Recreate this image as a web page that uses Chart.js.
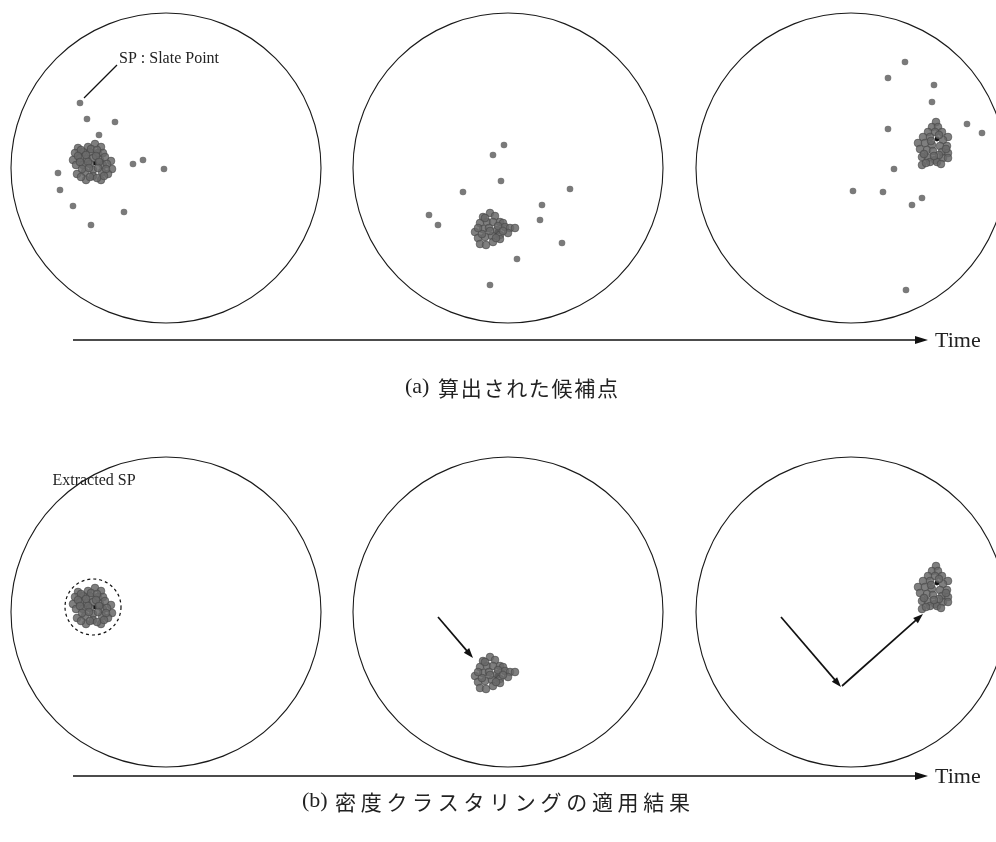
<!DOCTYPE html>
<html>
<head>
<meta charset="utf-8">
<script src="https://cdn.jsdelivr.net/npm/chart.js@4.4.1/dist/chart.umd.min.js"></script>
<style>
  html, body { margin: 0; padding: 0; background: #fff; overflow: hidden; }
  #wrap { position: relative; width: 996px; height: 842px; }
</style>
</head>
<body>
<div id="wrap"><canvas id="c" width="996" height="842"></canvas></div>
<script>
// Candidate points for three time steps, each relative to its circle's centre (x right, y up).
const outliersT1 = [[-86,65],[-79,49],[-51,46],[-67,33],[-33,4],[-23,8],[-2,-1],[-108,-5],[-106,-22],[-93,-38],[-42,-44],[-75,-57]];
const clusterT1 = [[-88,20],[-78,21],[-71,24],[-65,21],[-91,15],[-83,16],[-76,16],[-68,15],[-63,15],[-93,8],[-86,10],[-79,9],[-73,10],[-66,8],[-55,7],[-90,3],[-83,3],[-76,4],[-63,3],[-54,-1],[-89,-6],[-81,-4],[-73,-2],[-64,-4],[-58,-6],[-80,-12],[-73,-8],[-65,-12],[-85,18],[-75,19],[-69,18],[-88,12],[-80,13],[-70,12],[-61,11],[-86,6],[-78,6],[-67,6],[-59,4],[-84,-1],[-77,0],[-68,0],[-60,-1],[-76,-9],[-69,-10],[-85,-9],[-62,-8]];
const coreT1 = [[-71,5]];

const outliersT2 = [[-4,23],[-15,13],[-7,-13],[-45,-24],[62,-21],[34,-37],[32,-52],[-79,-47],[-70,-57],[54,-75],[9,-91],[-18,-117]];
const clusterT2 = [[-25,-49],[-18,-45],[-13,-48],[-28,-55],[-21,-54],[-15,-54],[-8,-54],[-5,-55],[-33,-64],[-25,-61],[-19,-60],[-11,-62],[-3,-59],[2,-60],[7,-60],[-30,-70],[-23,-69],[-16,-68],[-8,-67],[0,-65],[-28,-76],[-22,-77],[-15,-74],[-8,-71],[-23,-50],[-10,-58],[-5,-63],[-26,-66],[-12,-70],[-18,-63],[-30,-60]];
const coreT2 = [[-11,-64]];

const outliersT3 = [[54,106],[37,90],[83,83],[81,66],[37,39],[116,44],[131,35],[43,-1],[2,-23],[32,-24],[61,-37],[71,-30],[55,-122]];
const clusterT3 = [[85,46],[81,41],[87,41],[77,36],[84,36],[91,36],[97,31],[72,31],[79,31],[92,28],[67,25],[74,25],[81,23],[89,22],[96,22],[69,19],[76,18],[82,17],[91,16],[97,15],[71,11],[77,10],[84,8],[92,10],[97,10],[71,3],[79,6],[86,6],[88,33],[80,27],[73,14],[88,13],[95,19],[83,12],[75,5],[90,4]];
const coreT3 = [[86,29]];

// Movement of the extracted slate point between time steps (start, end), same local frame.
const moveT2 = [[[-70,-5],[-35,-46]]];
const moveT3 = [[[-70,-5],[-10,-75]], [[-9,-74],[72,-2]]];

// Text labels
const captionA = ['(a)', '算出された候補点'];
const captionB = ['(b)', '密度クラスタリングの適用結果'];
const timeLabel = 'Time';
const spLabel = 'SP : Slate Point';
const extractedLabel = 'Extracted SP';

// Layout of the six circles (page units, y down)
const PANEL_X = [166, 508, 851];
const ROW_Y = [168, 612];
const CIRCLE_R = 155;

function place(points, col, row) {
  return points.map(([lx, ly]) => ({ x: PANEL_X[col] + lx, y: ROW_Y[row] - ly }));
}

const outlierStyle = { backgroundColor: '#7a7a7a', borderWidth: 0, pointRadius: 3.3 };
const clusterStyle = { backgroundColor: 'rgba(105,105,105,0.85)', borderColor: 'rgba(60,60,60,0.7)', borderWidth: 0.7, pointRadius: 3.9 };
const coreStyle = { backgroundColor: '#111', borderWidth: 0, pointRadius: 2.4 };

const steps = [
  { outliers: outliersT1, cluster: clusterT1, core: coreT1 },
  { outliers: outliersT2, cluster: clusterT2, core: coreT2 },
  { outliers: outliersT3, cluster: clusterT3, core: coreT3 },
];

const datasets = [];
steps.forEach((s, col) => {
  // (a) all candidate points
  datasets.push({ label: 'candidates ' + (col + 1), data: place(s.outliers, col, 0), ...outlierStyle });
  datasets.push({ label: 'cluster ' + (col + 1), data: place(s.cluster, col, 0), ...clusterStyle });
  datasets.push({ label: 'core ' + (col + 1), data: place(s.core, col, 0), ...coreStyle });
  // (b) after density clustering only the dense cluster remains
  datasets.push({ label: 'extracted ' + (col + 1), data: place(s.cluster, col, 1), ...clusterStyle });
  datasets.push({ label: 'extracted core ' + (col + 1), data: place(s.core, col, 1), ...coreStyle });
});

function arrowHead(ctx, x0, y0, x1, y1, len, half) {
  const a = Math.atan2(y1 - y0, x1 - x0);
  ctx.beginPath();
  ctx.moveTo(x1, y1);
  ctx.lineTo(x1 - len * Math.cos(a) + half * Math.sin(a), y1 - len * Math.sin(a) - half * Math.cos(a));
  ctx.lineTo(x1 - len * Math.cos(a) - half * Math.sin(a), y1 - len * Math.sin(a) + half * Math.cos(a));
  ctx.closePath();
  ctx.fill();
}

function drawArrow(ctx, x0, y0, x1, y1, width, len, half) {
  const a = Math.atan2(y1 - y0, x1 - x0);
  ctx.lineWidth = width;
  ctx.beginPath();
  ctx.moveTo(x0, y0);
  ctx.lineTo(x1 - (len - 1) * Math.cos(a), y1 - (len - 1) * Math.sin(a));
  ctx.stroke();
  arrowHead(ctx, x0, y0, x1, y1, len, half);
}

// Caption: serif label, then Japanese text spread over a given width
function drawCaption(ctx, parts, left, jpLeft, jpRight, cy) {
  ctx.textBaseline = 'middle';
  ctx.textAlign = 'left';
  ctx.fillStyle = '#222';
  ctx.font = '22px "Liberation Serif", "Times New Roman", serif';
  ctx.fillText(parts[0], left, cy);
  ctx.font = '21px "Noto Sans CJK JP", sans-serif';
  const n = [...parts[1]].length;
  const hasLS = 'letterSpacing' in ctx;
  if (hasLS) {
    ctx.letterSpacing = '0px';
    const w0 = ctx.measureText(parts[1]).width;
    const gap = Math.max(0, (jpRight - jpLeft - w0) / (n - 1));
    ctx.letterSpacing = gap.toFixed(2) + 'px';
  }
  ctx.fillText(parts[1], jpLeft, cy + 1);
  if (hasLS) ctx.letterSpacing = '0px';
}

const overlay = {
  id: 'overlay',
  beforeDatasetsDraw(chart) {
    const { ctx, scales: { x, y } } = chart;
    ctx.save();
    ctx.strokeStyle = '#1a1a1a';
    ctx.lineWidth = 1.1;
    ROW_Y.forEach(cy => PANEL_X.forEach(cx => {
      const px = x.getPixelForValue(cx), py = y.getPixelForValue(cy);
      const r = x.getPixelForValue(cx + CIRCLE_R) - px;
      ctx.beginPath();
      ctx.arc(px, py, r, 0, Math.PI * 2);
      ctx.stroke();
    }));
    ctx.restore();
  },
  afterDatasetsDraw(chart) {
    const { ctx, scales: { x, y } } = chart;
    const X = (col, lx) => x.getPixelForValue(PANEL_X[col] + lx);
    const Y = (row, ly) => y.getPixelForValue(ROW_Y[row] - ly);
    ctx.save();
    ctx.strokeStyle = '#111';
    ctx.fillStyle = '#111';

    // time axes
    [340, 776].forEach(ty => {
      drawArrow(ctx, x.getPixelForValue(73), y.getPixelForValue(ty), x.getPixelForValue(928), y.getPixelForValue(ty), 1.3, 13, 4);
      ctx.fillStyle = '#222';
      ctx.font = '22px "Liberation Serif", "Times New Roman", serif';
      ctx.textBaseline = 'middle';
      ctx.textAlign = 'left';
      ctx.fillText(timeLabel, x.getPixelForValue(935), y.getPixelForValue(ty) + 1);
      ctx.fillStyle = '#111';
    });

    // SP leader line and label
    ctx.lineWidth = 1.3;
    ctx.beginPath();
    ctx.moveTo(X(0, -49), Y(0, 103));
    ctx.lineTo(X(0, -82), Y(0, 70));
    ctx.stroke();
    ctx.fillStyle = '#222';
    ctx.font = '16px "Liberation Serif", "Times New Roman", serif';
    ctx.textBaseline = 'alphabetic';
    ctx.textAlign = 'left';
    ctx.fillText(spLabel, X(0, -47), Y(0, 105));

    // extracted SP: dashed ring and label
    ctx.setLineDash([3, 3]);
    ctx.lineWidth = 1.2;
    ctx.strokeStyle = '#111';
    ctx.beginPath();
    ctx.arc(X(0, -73), Y(1, 5), x.getPixelForValue(28) - x.getPixelForValue(0), 0, Math.PI * 2);
    ctx.stroke();
    ctx.setLineDash([]);
    ctx.textAlign = 'center';
    ctx.textBaseline = 'middle';
    ctx.fillText(extractedLabel, X(0, -72), Y(1, 131));

    // movement arrows
    ctx.fillStyle = '#111';
    [[1, moveT2], [2, moveT3]].forEach(([col, segs]) => {
      segs.forEach(([[ax, ay], [bx, by]]) => {
        drawArrow(ctx, X(col, ax), Y(1, ay), X(col, bx), Y(1, by), 1.7, 10, 3.5);
      });
    });

    // captions
    drawCaption(ctx, captionA, x.getPixelForValue(405), x.getPixelForValue(438), x.getPixelForValue(618), y.getPixelForValue(387));
    drawCaption(ctx, captionB, x.getPixelForValue(302), x.getPixelForValue(335), x.getPixelForValue(690), y.getPixelForValue(801));
    ctx.restore();
  }
};

new Chart(document.getElementById('c'), {
  type: 'scatter',
  data: { datasets },
  options: {
    responsive: false,
    animation: false,
    devicePixelRatio: 1,
    layout: { padding: 0, autoPadding: false },
    plugins: { legend: { display: false }, tooltip: { enabled: false }, title: { display: false } },
    elements: { point: { hoverRadius: 0 } },
    clip: false,
    scales: {
      x: { type: 'linear', min: 0, max: 996, display: false },
      y: { type: 'linear', min: 0, max: 842, reverse: true, display: false }
    }
  },
  plugins: [overlay]
});
</script>
</body>
</html>
